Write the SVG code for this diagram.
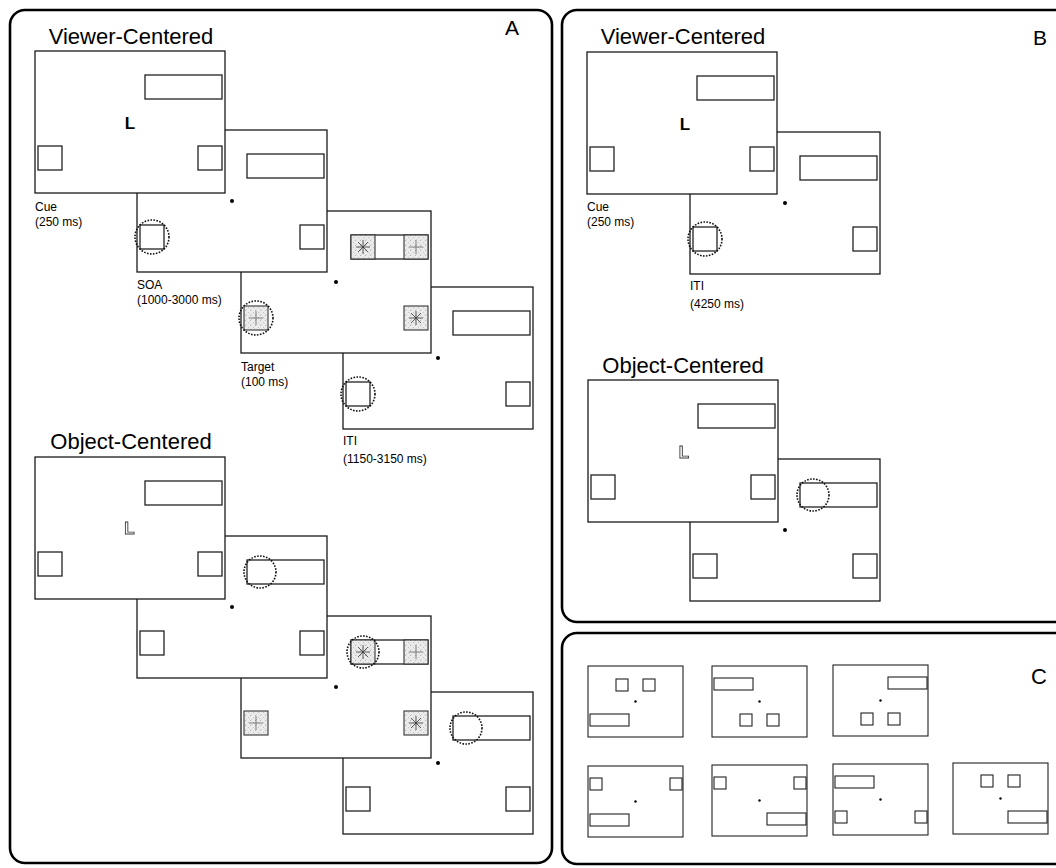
<svg xmlns="http://www.w3.org/2000/svg" xmlns:xlink="http://www.w3.org/1999/xlink" width="1056" height="868" viewBox="0 0 1056 868">
<style>
.panel{fill:none;stroke:#000;stroke-width:2.6}
.frame{fill:#fff;stroke:#1a1a1a;stroke-width:1.3}
.box{fill:none;stroke:#222;stroke-width:1.3}
.shade{fill:url(#stip);stroke:#333;stroke-width:1.1}
.thumb{fill:#fff;stroke:#222;stroke-width:1.1}
.tbox{fill:none;stroke:#222;stroke-width:1.1}
.cue{fill:none;stroke:#111;stroke-width:1.6;stroke-dasharray:1.6 1.4}
.dot{fill:#000}
.title{font-family:"Liberation Sans",Arial,sans-serif;font-size:22px;fill:#000;text-anchor:middle}
.letter{font-family:"Liberation Sans",Arial,sans-serif;font-size:21px;fill:#000;text-anchor:middle}
.lab{font-family:"Liberation Sans",Arial,sans-serif;font-size:12px;fill:#000}
.bigL{font-family:"Liberation Sans",Arial,sans-serif;font-size:17px;font-weight:bold;fill:#000;text-anchor:middle}
.outL{font-family:"Liberation Sans",Arial,sans-serif;font-size:17px;font-weight:bold;fill:#fff;stroke:#3a3a3a;stroke-width:0.9;text-anchor:middle}
</style>
<defs>
<filter id="gray" x="-50%" y="-50%" width="200%" height="200%">
<feColorMatrix type="saturate" values="0"/>
</filter>
<pattern id="stip" width="5" height="5" patternUnits="userSpaceOnUse">
<rect width="5" height="5" fill="#ebebeb"/>
<rect x="0" y="0" width="1" height="1" fill="#b5b5b5"/>
<rect x="3" y="2" width="1" height="1" fill="#c4c4c4"/>
<rect x="1" y="4" width="1" height="1" fill="#d2d2d2"/>
<rect x="4" y="3" width="1" height="1" fill="#dadada"/>
</pattern>
<g id="ast" stroke="#333" stroke-width="0.8">
<line x1="-7" y1="0" x2="7" y2="0"/>
<line x1="0" y1="-7" x2="0" y2="7"/>
<line x1="-5" y1="-5" x2="5" y2="5"/>
<line x1="-5" y1="5" x2="5" y2="-5"/>
</g>
<g id="plus" stroke="#666" stroke-width="0.8">
<line x1="-7" y1="0" x2="7" y2="0"/>
<line x1="0" y1="-7" x2="0" y2="7"/>
</g>
</defs>

<rect class="panel" x="10" y="10" width="542" height="853" rx="15"/>
<rect class="panel" x="562" y="10" width="520" height="612" rx="15"/>
<rect class="panel" x="562" y="633" width="520" height="231" rx="15"/>

<text class="letter" x="512" y="35">A</text>
<text class="letter" x="1040" y="45">B</text>
<text class="letter" x="1039" y="684" style="font-size:22px">C</text>

<!-- Panel A viewer-centered -->
<text class="title" x="131" y="44">Viewer-Centered</text>
<g id="A-viewer-iti">
<rect class="frame" x="343" y="287" width="190" height="142"/>
<rect class="box" x="453" y="311" width="77" height="24"/>
<rect class="box" x="346" y="382" width="24" height="24"/>
<rect class="box" x="506" y="382" width="24" height="24"/>
<circle class="dot" cx="438" cy="358" r="2"/>
<circle class="cue" cx="358" cy="394" r="17"/>
</g>
<g id="A-viewer-target">
<rect class="frame" x="241" y="211" width="190" height="142"/>
<rect class="box" x="351" y="235" width="77" height="24"/>
<rect class="shade" x="351" y="235" width="24" height="24"/>
<rect class="shade" x="404" y="235" width="24" height="24"/>
<use xlink:href="#ast" x="363" y="247"/>
<use xlink:href="#plus" x="416" y="247"/>
<rect class="shade" x="244" y="306" width="24" height="24"/>
<use xlink:href="#plus" x="256" y="318"/>
<rect class="shade" x="404" y="306" width="24" height="24"/>
<use xlink:href="#ast" x="416" y="318"/>
<circle class="dot" cx="336" cy="282" r="2"/>
<circle class="cue" cx="256" cy="318" r="17"/>
</g>
<g id="A-viewer-soa">
<rect class="frame" x="137" y="130" width="190" height="142"/>
<rect class="box" x="247" y="154" width="77" height="24"/>
<rect class="box" x="140" y="225" width="24" height="24"/>
<rect class="box" x="300" y="225" width="24" height="24"/>
<circle class="dot" cx="232" cy="201" r="2"/>
<circle class="cue" cx="152" cy="237" r="17"/>
</g>
<g id="A-viewer-cue">
<rect class="frame" x="35" y="51" width="190" height="142"/>
<rect class="box" x="145" y="75" width="77" height="24"/>
<rect class="box" x="38" y="146" width="24" height="24"/>
<rect class="box" x="198" y="146" width="24" height="24"/>
<text class="bigL" x="130" y="129">L</text>
</g>
<g id="A-labels">
<text class="lab" x="35" y="211">Cue</text>
<text class="lab" x="35" y="226">(250 ms)</text>
<text class="lab" x="137" y="289">SOA</text>
<text class="lab" x="137" y="304">(1000-3000 ms)</text>
<text class="lab" x="241" y="371">Target</text>
<text class="lab" x="241" y="386">(100 ms)</text>
<text class="lab" x="343" y="445">ITI</text>
<text class="lab" x="343" y="463">(1150-3150 ms)</text>
</g>

<!-- Panel A object-centered -->
<text class="title" x="131" y="449">Object-Centered</text>
<g id="A-object-iti">
<rect class="frame" x="343" y="692" width="190" height="142"/>
<rect class="box" x="453" y="716" width="77" height="24"/>
<rect class="box" x="346" y="787" width="24" height="24"/>
<rect class="box" x="506" y="787" width="24" height="24"/>
<circle class="dot" cx="438" cy="763" r="2"/>
<circle class="cue" cx="466" cy="728" r="16"/>
</g>
<g id="A-object-target">
<rect class="frame" x="241" y="616" width="190" height="142"/>
<rect class="box" x="351" y="640" width="77" height="24"/>
<rect class="shade" x="351" y="640" width="24" height="24"/>
<rect class="shade" x="404" y="640" width="24" height="24"/>
<use xlink:href="#ast" x="363" y="652"/>
<use xlink:href="#plus" x="416" y="652"/>
<rect class="shade" x="244" y="711" width="24" height="24"/>
<use xlink:href="#plus" x="256" y="723"/>
<rect class="shade" x="404" y="711" width="24" height="24"/>
<use xlink:href="#ast" x="416" y="723"/>
<circle class="dot" cx="336" cy="687" r="2"/>
<circle class="cue" cx="363" cy="652" r="16"/>
</g>
<g id="A-object-soa">
<rect class="frame" x="137" y="536" width="190" height="142"/>
<rect class="box" x="247" y="560" width="77" height="24"/>
<rect class="box" x="140" y="631" width="24" height="24"/>
<rect class="box" x="300" y="631" width="24" height="24"/>
<circle class="dot" cx="232" cy="607" r="2"/>
<circle class="cue" cx="260" cy="572" r="16"/>
</g>
<g id="A-object-cue">
<rect class="frame" x="35" y="457" width="190" height="142"/>
<rect class="box" x="145" y="481" width="77" height="24"/>
<rect class="box" x="38" y="552" width="24" height="24"/>
<rect class="box" x="198" y="552" width="24" height="24"/>
<g filter="url(#gray)"><text class="outL" x="129.5" y="534">L</text></g>
</g>

<!-- Panel B -->
<text class="title" x="683" y="44">Viewer-Centered</text>
<g id="B-viewer-iti">
<rect class="frame" x="690" y="132" width="190" height="142"/>
<rect class="box" x="800" y="156" width="77" height="24"/>
<rect class="box" x="693" y="227" width="24" height="24"/>
<rect class="box" x="853" y="227" width="24" height="24"/>
<circle class="dot" cx="785" cy="203" r="2"/>
<circle class="cue" cx="705" cy="239" r="17"/>
</g>
<g id="B-viewer-cue">
<rect class="frame" x="587" y="52" width="190" height="142"/>
<rect class="box" x="697" y="76" width="77" height="24"/>
<rect class="box" x="590" y="147" width="24" height="24"/>
<rect class="box" x="750" y="147" width="24" height="24"/>
<text class="bigL" x="685" y="130">L</text>
</g>
<g id="B-labels">
<text class="lab" x="587" y="211">Cue</text>
<text class="lab" x="587" y="226">(250 ms)</text>
<text class="lab" x="690" y="290">ITI</text>
<text class="lab" x="690" y="308">(4250 ms)</text>
</g>
<text class="title" x="683" y="373">Object-Centered</text>
<g id="B-object-iti">
<rect class="frame" x="690" y="459" width="190" height="142"/>
<rect class="box" x="800" y="483" width="77" height="24"/>
<rect class="box" x="693" y="554" width="24" height="24"/>
<rect class="box" x="853" y="554" width="24" height="24"/>
<circle class="dot" cx="785" cy="530" r="2"/>
<circle class="cue" cx="813" cy="495" r="16"/>
</g>
<g id="B-object-cue">
<rect class="frame" x="588" y="380" width="190" height="142"/>
<rect class="box" x="698" y="404" width="77" height="24"/>
<rect class="box" x="591" y="475" width="24" height="24"/>
<rect class="box" x="751" y="475" width="24" height="24"/>
<g filter="url(#gray)"><text class="outL" x="684" y="458">L</text></g>
</g>

<!-- Panel C -->
<g id="C1">
<rect class="thumb" x="588" y="666" width="95" height="71"/>
<rect class="tbox" x="616" y="679" width="12" height="12"/>
<rect class="tbox" x="643" y="679" width="12" height="12"/>
<rect class="tbox" x="590" y="714" width="39" height="12"/>
<circle class="dot" cx="635.5" cy="701.5" r="1.2"/>
</g>
<g id="C2">
<rect class="thumb" x="712" y="666" width="95" height="71"/>
<rect class="tbox" x="714" y="678" width="39" height="12"/>
<rect class="tbox" x="740" y="714" width="12" height="12"/>
<rect class="tbox" x="767" y="714" width="12" height="12"/>
<circle class="dot" cx="759.5" cy="701.5" r="1.2"/>
</g>
<g id="C3">
<rect class="thumb" x="833" y="665" width="95" height="71"/>
<rect class="tbox" x="888" y="677" width="39" height="12"/>
<rect class="tbox" x="861" y="713" width="12" height="12"/>
<rect class="tbox" x="888" y="713" width="12" height="12"/>
<circle class="dot" cx="880.5" cy="700.5" r="1.2"/>
</g>
<g id="C4">
<rect class="thumb" x="588" y="766" width="95" height="71"/>
<rect class="tbox" x="590" y="778" width="12" height="12"/>
<rect class="tbox" x="670" y="778" width="12" height="12"/>
<rect class="tbox" x="590" y="814" width="39" height="12"/>
<circle class="dot" cx="635.5" cy="801.5" r="1.2"/>
</g>
<g id="C5">
<rect class="thumb" x="712" y="765" width="95" height="71"/>
<rect class="tbox" x="714" y="777" width="12" height="12"/>
<rect class="tbox" x="794" y="777" width="12" height="12"/>
<rect class="tbox" x="767" y="813" width="39" height="12"/>
<circle class="dot" cx="759.5" cy="800.5" r="1.2"/>
</g>
<g id="C6">
<rect class="thumb" x="833" y="764" width="95" height="71"/>
<rect class="tbox" x="835" y="776" width="39" height="12"/>
<rect class="tbox" x="835" y="811" width="12" height="12"/>
<rect class="tbox" x="915" y="811" width="12" height="12"/>
<circle class="dot" cx="880.5" cy="799.5" r="1.2"/>
</g>
<g id="C7">
<rect class="thumb" x="953" y="763" width="95" height="71"/>
<rect class="tbox" x="981" y="775" width="12" height="12"/>
<rect class="tbox" x="1008" y="775" width="12" height="12"/>
<rect class="tbox" x="1008" y="811" width="39" height="12"/>
<circle class="dot" cx="1000.5" cy="798.5" r="1.2"/>
</g>
<g id="connectors"></g>
</svg>
